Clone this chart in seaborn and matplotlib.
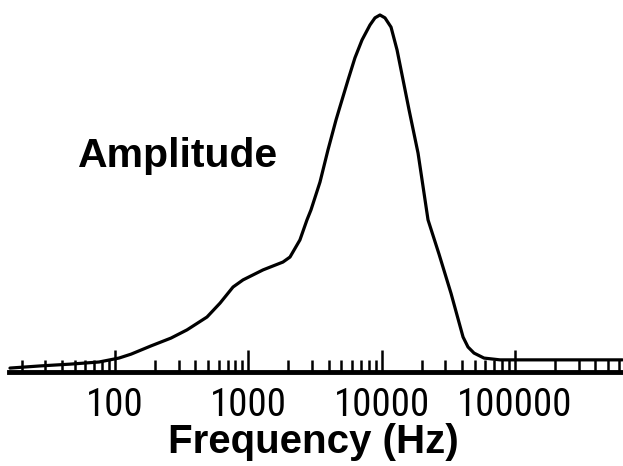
import matplotlib
matplotlib.use("Agg")
import matplotlib.pyplot as plt
from matplotlib import font_manager as fm
from matplotlib.ticker import LogLocator, NullFormatter
import pandas as pd
import seaborn as sns

# Data
freq_hz = [16.3, 27.4, 46, 75.9, 107, 132, 186, 263, 347, 490, 614, 768, 913,
           1290, 1820, 2055, 2440, 2755, 2953, 3450, 3960, 4550, 4790, 5600,
           6310, 7130, 8180, 8920, 9720, 10600, 11770, 13060, 14490, 16070,
           18770, 22300, 26970, 33190, 40830, 44480, 49350, 58650, 77300,
           217800, 640000]
amplitude = [1.1, 1.7, 2.2, 2.8, 3.9, 5.0, 7.3, 9.5, 11.8, 15.4, 19.3, 23.8,
             25.8, 28.6, 30.8, 32.2, 37.0, 42.6, 45.4, 53.2, 62.2, 70.6, 73.4,
             81.8, 88.0, 93.0, 97.2, 99.2, 100, 99.2, 96.6, 90.2, 81.8, 73.4,
             61.3, 42.6, 33.0, 22.0, 9.8, 7.0, 5.3, 3.9, 3.4, 3.4, 3.4]
tick_values = [100, 1000, 10000, 100000]
tick_labels = ["100", "1000", "10000", "100000"]

sns.set_theme(style="white")
plt.rcParams["font.family"] = ["Liberation Sans", "DejaVu Sans"]

available = {f.name for f in fm.fontManager.ttflist}
narrow_family, tick_size = "Liberation Sans", 26
for cand in ["Liberation Sans Narrow", "Arial Narrow", "Roboto Condensed"]:
    if cand in available:
        narrow_family, tick_size = cand, 28
        break

df = pd.DataFrame({"freq": freq_hz, "amp": amplitude})

W, H = 623, 466
fig = plt.figure(figsize=(W / 100, H / 100), dpi=100)
fig.patch.set_facecolor("white")
base_px = 372
ax = fig.add_axes([0, (H - base_px) / H, 1, base_px / H])
ax.set_facecolor("none")

sns.lineplot(data=df, x="freq", y="amp", ax=ax, color="black",
             linewidth=2.3, estimator=None, sort=False)
ax.set_xscale("log")
ax.set_xlim(13.72, 647000)
ax.set_ylim(0, 104.2)

for s in ["top", "right", "left"]:
    ax.spines[s].set_visible(False)
ax.spines["bottom"].set_linewidth(3.5)
ax.spines["bottom"].set_color("black")
ax.spines["bottom"].set_bounds(16, 647000)

ax.set_yticks([])
ax.set_ylabel("")
ax.set_xticks(tick_values)
ax.set_xticklabels(tick_labels)
ax.xaxis.set_minor_locator(LogLocator(base=10, subs=range(2, 10), numticks=20))
ax.xaxis.set_minor_formatter(NullFormatter())
ax.tick_params(axis="x", which="both", bottom=True, top=False)
ax.tick_params(axis="x", which="major", direction="in", length=16, width=1.8,
               pad=11, labelsize=tick_size, colors="black")
ax.tick_params(axis="x", which="minor", direction="in", length=9, width=1.8,
               colors="black")
for lbl in ax.get_xticklabels():
    lbl.set_fontfamily([narrow_family, "DejaVu Sans"])

ax.set_xlabel("Frequency (Hz)", fontsize=29, fontweight="bold", color="black")
ax.xaxis.set_label_coords(313 / W, (base_px - 453) / base_px)
ax.xaxis.label.set_va("baseline")
ax.xaxis.label.set_ha("center")

fig.text(78 / W, (H - 167) / H, "Amplitude", fontsize=29.5, fontweight="bold",
         ha="left", va="baseline", color="black")

fig.savefig("out.png", dpi=100, facecolor="white")
